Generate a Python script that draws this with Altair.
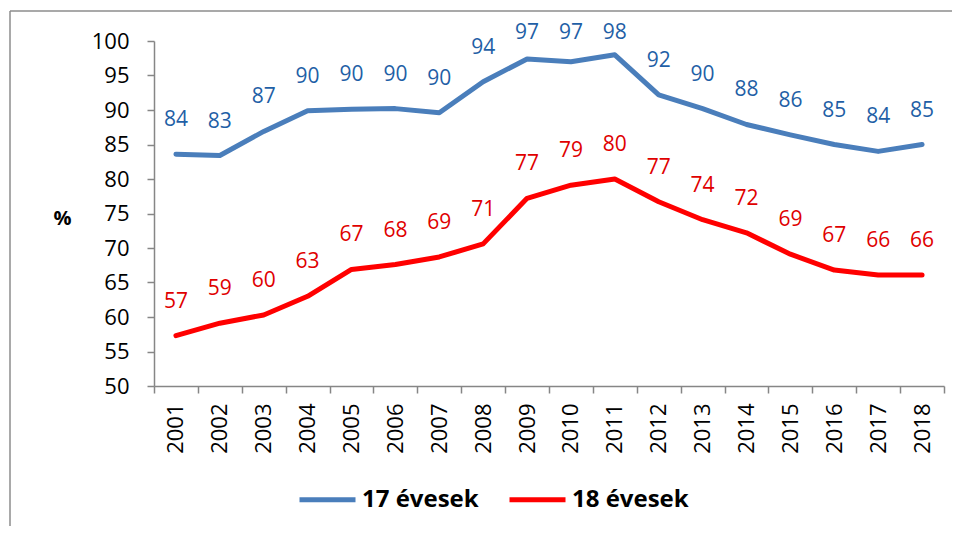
import altair as alt
import pandas as pd

years = [str(y) for y in range(2001, 2019)]
s17 = [83.6, 83.4, 86.9, 89.9, 90.1, 90.2, 89.6, 94.1, 97.4, 97.0, 98.0, 92.2, 90.2, 87.9, 86.4, 85.0, 84.0, 85.0]
s18 = [57.3, 59.1, 60.3, 63.0, 66.9, 67.6, 68.7, 70.6, 77.2, 79.1, 80.0, 76.7, 74.1, 72.2, 69.1, 66.8, 66.1, 66.1]
series_names = ["17 évesek", "18 évesek"]
line_colors = ["#4a7ebb", "#ff0000"]
label_colors = ["#1f5fa6", "#e00000"]
y_ticks = [50, 55, 60, 65, 70, 75, 80, 85, 90, 95, 100]

rows = []
for i, y in enumerate(years):
    rows.append({"year": y, "value": s17[i], "series": series_names[0]})
    rows.append({"year": y, "value": s18[i], "series": series_names[1]})
df = pd.DataFrame(rows)

FONT = "Open Sans"

x_axis = alt.Axis(labelAngle=270, labelAlign="right", labelBaseline="middle",
                  labelFontSize=22, labelColor="#000000", labelFont=FONT,
                  labelPadding=10, tickBand="extent", tickSize=7,
                  tickColor="#868686", domainColor="#868686", domainWidth=1.5,
                  tickWidth=1.5, labelOverlap=False)
y_axis = alt.Axis(values=y_ticks, grid=False, title="%",
                  titleAngle=0, titleFontSize=20, titleFontWeight="bold",
                  titleFont=FONT, titleColor="#000000",
                  titleX=-92, titleY=177, titleAlign="center", titleBaseline="middle",
                  labelFontSize=22, labelColor="#000000", labelFont=FONT,
                  labelPadding=18, tickSize=7, tickColor="#868686",
                  domainColor="#868686", domainWidth=1.5, tickWidth=1.5,
                  labelOverlap=False)
x_scale = alt.Scale(paddingInner=0, paddingOuter=0)
y_scale = alt.Scale(domain=[50, 100], nice=False, zero=False)

color = alt.Color("series:N", sort=series_names,
                  scale=alt.Scale(domain=series_names, range=line_colors),
                  legend=alt.Legend(title=None, orient="none", direction="horizontal",
                                    legendX=143, legendY=428, symbolType="stroke",
                                    symbolSize=3136, symbolStrokeWidth=5,
                                    labelFontSize=24, labelFontWeight="bold",
                                    labelFont=FONT, labelColor="#000000",
                                    labelOffset=4, columnPadding=20, padding=0))

base = alt.Chart(df)
lines = base.mark_line(strokeWidth=5, strokeCap="round", strokeJoin="round").encode(
    x=alt.X("year:N", sort=years, title=None, scale=x_scale, axis=x_axis),
    y=alt.Y("value:Q", title="%", scale=y_scale, axis=y_axis),
    color=color, detail="series:N")

labels = base.transform_calculate(
    label_y="min(datum.value, 96.2)"
).mark_text(dy=-34, fontSize=21, font=FONT, baseline="middle", align="center").encode(
    x=alt.X("year:N", sort=years, title=None, scale=x_scale, axis=x_axis),
    y=alt.Y("label_y:Q", title="%", scale=y_scale, axis=y_axis),
    text=alt.Text("value:Q", format=".0f"),
    color=alt.Color("series:N", scale=alt.Scale(domain=series_names, range=label_colors), legend=None),
)

frame_df = pd.DataFrame({"k": [0]})
frame_left = alt.Chart(frame_df).mark_rule(color="#8c8c8c", strokeWidth=1.5).encode(
    x=alt.value(-144), y=alt.value(-30), y2=alt.value(700))
frame_top = alt.Chart(frame_df).mark_rule(color="#8c8c8c", strokeWidth=1.5).encode(
    x=alt.value(-144), x2=alt.value(1000), y=alt.value(-30))

chart = alt.layer(frame_left, frame_top, lines, labels).resolve_scale(color="independent").properties(
    width=790, height=345,
    autosize=alt.AutoSizeParams(type="none"),
    padding={"left": 146, "top": 33, "right": 8, "bottom": 140},
).configure_view(strokeWidth=0)

chart.save("out.html", embed_options={"renderer": "svg", "actions": False})
